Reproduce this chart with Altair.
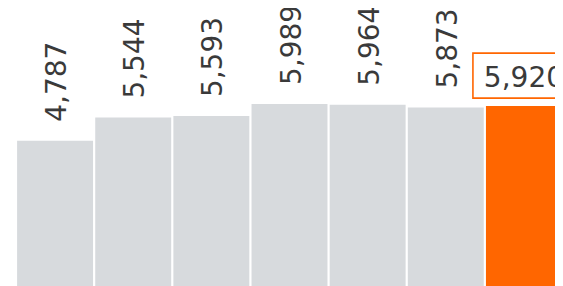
import altair as alt
import pandas as pd

categories = ["P1", "P2", "P3", "P4", "P5", "P6", "P7"]
values = [4787, 5544, 5593, 5989, 5964, 5873, 5920]
highlight = [False, False, False, False, False, False, True]

df = pd.DataFrame({"cat": categories, "value": values, "hl": highlight})

FONT = "DejaVu Sans"
GRAY = "#d7dadd"
ORANGE = "#ff6600"
TEXT = "#3a3a3a"

x = alt.X("cat:N", sort=None, axis=None,
          scale=alt.Scale(paddingInner=0.028, paddingOuter=0.014, range=[0, 547]))
y = alt.Y("value:Q", axis=None, scale=alt.Scale(domain=[0, 9000], nice=False))

base = alt.Chart(df)

bars = base.mark_bar().encode(
    x=x, y=y,
    color=alt.Color("hl:N", scale=alt.Scale(domain=[False, True], range=[GRAY, ORANGE]), legend=None),
)

rot_labels = base.transform_filter("!datum.hl").mark_text(
    angle=270, align="left", baseline="middle", yOffset=-19, xOffset=3,
    font=FONT, fontSize=28, color=TEXT,
).encode(x=x, y=y, text=alt.Text("value:Q", format=","))

box = base.transform_filter("datum.hl").mark_rect(
    fill="white", stroke=ORANGE, strokeWidth=1.6, width=120, xOffset=9,
    yOffset=-8, y2Offset=-53,
).encode(x=x, y=y, y2="value:Q")

hl_label = base.transform_filter("datum.hl").mark_text(
    align="center", baseline="alphabetic", yOffset=-19,
    font=FONT, fontSize=28, color=TEXT,
).encode(x=x, y=y, text=alt.Text("value:Q", format=","))

chart = alt.layer(bars, rot_labels, box, hl_label).properties(
    width=539, height=275,
    padding={"left": 8, "top": 4, "right": 0, "bottom": 0},
    autosize=alt.AutoSizeParams(type="none"),
).configure_view(stroke=None)

chart.save("out.html", embed_options={"renderer": "svg", "actions": False})
